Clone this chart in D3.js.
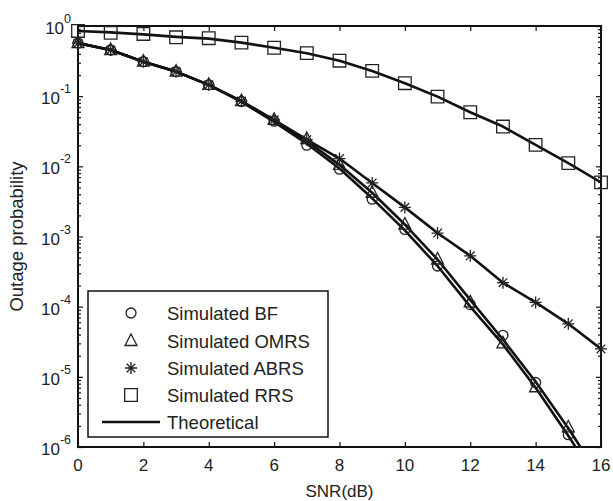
<!DOCTYPE html>
<html>
<head>
<meta charset="utf-8">
<script src="https://cdn.jsdelivr.net/npm/d3@7"></script>
<style>
  body { margin: 0; background: #fff; }
  text { font-family: "Liberation Sans", Arial, Helvetica, sans-serif; fill: #222; }
</style>
</head>
<body>
<div id="chart"></div>
<script>
// SNR values (dB)
var snr = [0, 1, 2, 3, 4, 5, 6, 7, 8, 9, 10, 11, 12, 13, 14, 15, 16];

// simulated points (null = below the plotted range)
var simBF   = [0.57, 0.455, 0.31, 0.224, 0.145, 0.084, 0.044, 0.020, 0.0091, 0.0034, 0.00126, 0.00038, 1.07e-4, 3.9e-5, 8.3e-6, 1.5e-6, null];
var simOMRS = [0.57, 0.455, 0.31, 0.224, 0.145, 0.085, 0.046, 0.0245, 0.0105, 0.0042, 0.00148, 0.00047, 1.15e-4, 3.0e-5, 7.1e-6, 1.9e-6, null];
var simABRS = [0.57, 0.455, 0.31, 0.224, 0.145, 0.085, 0.046, 0.024, 0.0129, 0.0058, 0.0026, 0.00112, 5.3e-4, 2.2e-4, 1.15e-4, 5.7e-5, 2.5e-5];
var simRRS  = [0.85, 0.80, 0.77, 0.69, 0.67, 0.58, 0.49, 0.41, 0.32, 0.229, 0.153, 0.0986, 0.059, 0.0369, 0.0202, 0.0111, 0.0059];

// theoretical curves
var thBF   = [0.57, 0.455, 0.31, 0.224, 0.145, 0.083, 0.043, 0.021, 0.0093, 0.0035, 0.00122, 0.00038, 1.0e-4, 2.9e-5, 7.0e-6, 1.45e-6, 2.7e-7];
var thOMRS = [0.57, 0.455, 0.31, 0.224, 0.145, 0.085, 0.045, 0.023, 0.0105, 0.0042, 0.00148, 0.00047, 1.25e-4, 3.4e-5, 8.5e-6, 1.85e-6, 3.5e-7];
var thABRS = [0.57, 0.455, 0.31, 0.224, 0.145, 0.085, 0.046, 0.024, 0.0129, 0.0058, 0.0026, 0.00112, 5.3e-4, 2.2e-4, 1.15e-4, 5.7e-5, 2.5e-5];
var thRRS  = [0.85, 0.81, 0.76, 0.70, 0.66, 0.58, 0.49, 0.41, 0.32, 0.229, 0.153, 0.0986, 0.059, 0.0369, 0.0202, 0.0111, 0.0059];

var xTicks = [0, 2, 4, 6, 8, 10, 12, 14, 16];
var yDecades = [0, -1, -2, -3, -4, -5, -6];

var legendLabels = ["Simulated BF", "Simulated OMRS", "Simulated ABRS", "Simulated RRS", "Theoretical"];

var W = 613, H = 501;
var plot = { left: 78, right: 601, top: 26, bottom: 447 };

var svg = d3.select("#chart").append("svg")
    .attr("width", W)
    .attr("height", H);

var x = d3.scaleLinear().domain([0, 16]).range([plot.left, plot.right]);
var y = d3.scaleLog().domain([1e-6, 1]).range([plot.bottom, plot.top]);

svg.append("clipPath").attr("id", "clip")
  .append("rect")
    .attr("x", plot.left).attr("y", plot.top)
    .attr("width", plot.right - plot.left)
    .attr("height", plot.bottom - plot.top);

// minor ticks on the log axis
var minor = [];
for (var e = -6; e < 0; e++) {
    for (var m = 2; m <= 9; m++) minor.push(m * Math.pow(10, e));
}
var major = yDecades.map(function(d) { return Math.pow(10, d); });

var axG = svg.append("g").attr("class", "axes");

function addAxis(axis, tx, ty) {
    var g = axG.append("g").attr("transform", "translate(" + tx + "," + ty + ")").call(axis);
    g.select(".domain").remove();
    g.selectAll("line").attr("stroke", "#111").attr("stroke-width", 1.2);
    g.selectAll("text").remove();
    return g;
}

addAxis(d3.axisBottom(x).tickValues(xTicks).tickSize(-5), 0, plot.bottom);
addAxis(d3.axisTop(x).tickValues(xTicks).tickSize(-5), 0, plot.top);
addAxis(d3.axisLeft(y).tickValues(major).tickSize(-5), plot.left, 0);
addAxis(d3.axisRight(y).tickValues(major).tickSize(-5), plot.right, 0);
addAxis(d3.axisLeft(y).tickValues(minor).tickSize(-3), plot.left, 0);
addAxis(d3.axisRight(y).tickValues(minor).tickSize(-3), plot.right, 0);

// box
axG.append("rect")
    .attr("x", plot.left).attr("y", plot.top)
    .attr("width", plot.right - plot.left)
    .attr("height", plot.bottom - plot.top)
    .attr("fill", "none")
    .attr("stroke", "#111")
    .attr("stroke-width", 2);

// x tick labels
svg.append("g").selectAll("text")
    .data(xTicks)
    .enter().append("text")
    .attr("x", function(d) { return x(d); })
    .attr("y", plot.bottom + 24)
    .attr("text-anchor", "middle")
    .style("font-size", "17px")
    .text(function(d) { return d; });

// y tick labels: 10^n
var yl = svg.append("g").selectAll("text")
    .data(yDecades)
    .enter().append("text")
    .attr("x", plot.left - 7)
    .attr("y", function(d) { return y(Math.pow(10, d)) + 8; })
    .attr("text-anchor", "end")
    .style("font-size", "17px");
yl.append("tspan").text("10");
yl.append("tspan")
    .attr("dy", -11)
    .style("font-size", "12.5px")
    .text(function(d) { return d === 0 ? "0" : "-" + Math.abs(d); });

// axis titles
svg.append("text")
    .attr("x", (plot.left + plot.right) / 2)
    .attr("y", 497)
    .attr("text-anchor", "middle")
    .style("font-size", "17px")
    .text("SNR(dB)");

svg.append("text")
    .attr("transform", "translate(23," + ((plot.top + plot.bottom) / 2) + ") rotate(-90)")
    .attr("text-anchor", "middle")
    .style("font-size", "18.5px")
    .text("Outage probability");

// theoretical lines
var line = d3.line()
    .defined(function(d) { return d[1] != null; })
    .x(function(d) { return x(d[0]); })
    .y(function(d) { return y(d[1]); });

var lineG = svg.append("g").attr("clip-path", "url(#clip)");
[thBF, thOMRS, thABRS, thRRS].forEach(function(arr) {
    lineG.append("path")
        .datum(snr.map(function(s, i) { return [s, arr[i]]; }))
        .attr("d", line)
        .attr("fill", "none")
        .attr("stroke", "#111")
        .attr("stroke-width", 2.6)
        .attr("stroke-linejoin", "round");
});

// marker shapes
function markerPath(type) {
    if (type === "circle") return d3.symbol().type(d3.symbolCircle).size(Math.PI * 25)();
    if (type === "square") return "M-6.3,-6.3H6.3V6.3H-6.3Z";
    if (type === "triangle") return "M0,-7L6,4.5H-6Z";
    // asterisk: plus and cross
    var a = 6, b = 4.3;
    return "M0,-" + a + "V" + a + "M-" + a + ",0H" + a +
           "M-" + b + ",-" + b + "L" + b + "," + b + "M-" + b + "," + b + "L" + b + ",-" + b;
}

var series = [
    { data: simBF, type: "circle" },
    { data: simOMRS, type: "triangle" },
    { data: simABRS, type: "star" },
    { data: simRRS, type: "square" }
];

var markG = svg.append("g");
series.forEach(function(s) {
    markG.selectAll(null)
        .data(snr.map(function(v, i) { return [v, s.data[i]]; }).filter(function(d) { return d[1] != null; }))
        .enter().append("path")
        .attr("transform", function(d) { return "translate(" + x(d[0]) + "," + y(d[1]) + ")"; })
        .attr("d", markerPath(s.type))
        .attr("fill", "none")
        .attr("stroke", "#222")
        .attr("stroke-width", 1.3);
});

// legend
var lg = svg.append("g");
lg.append("rect")
    .attr("x", 88).attr("y", 291)
    .attr("width", 240).attr("height", 146)
    .attr("fill", "#fff")
    .attr("stroke", "#111")
    .attr("stroke-width", 1.5);

var rowY = [313, 341, 368, 395, 422];
series.forEach(function(s, i) {
    lg.append("path")
        .attr("transform", "translate(131," + rowY[i] + ")")
        .attr("d", markerPath(s.type))
        .attr("fill", "none")
        .attr("stroke", "#222")
        .attr("stroke-width", 1.3);
});
lg.append("line")
    .attr("x1", 102).attr("x2", 160)
    .attr("y1", rowY[4]).attr("y2", rowY[4])
    .attr("stroke", "#111")
    .attr("stroke-width", 2.6);

lg.selectAll("text")
    .data(legendLabels)
    .enter().append("text")
    .attr("x", 167)
    .attr("y", function(d, i) { return rowY[i] + 6.5; })
    .style("font-size", "18.5px")
    .text(function(d) { return d; });
</script>
</body>
</html>
